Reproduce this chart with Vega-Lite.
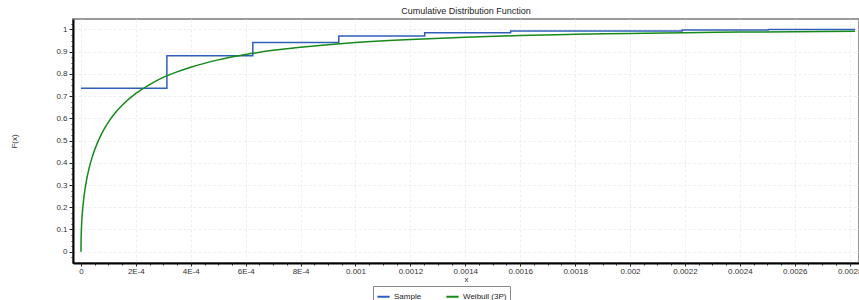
{
  "$schema": "https://vega.github.io/schema/vega-lite/v6.json",
  "width": 786,
  "height": 244,
  "autosize": {"type": "none"},
  "padding": {"left": 73, "top": 19, "right": 0, "bottom": 37},
  "background": "white",
  "config": {
    "font": "Liberation Sans",
    "view": {"stroke": "#9a9a9a", "strokeWidth": 2},
    "axis": {
      "labelFont": "Liberation Sans",
      "titleFont": "Liberation Sans",
      "labelFontSize": 8,
      "titleFontSize": 8,
      "titleFontWeight": "normal",
      "labelColor": "#333",
      "titleColor": "#333",
      "domainColor": "#000",
      "domainWidth": 2,
      "tickColor": "#222",
      "gridColor": "#eeeeee",
      "gridDash": [3, 2]
    }
  },
  "title": {
    "text": "Cumulative Distribution Function",
    "fontSize": 9,
    "fontWeight": "normal",
    "font": "Liberation Sans",
    "color": "#222",
    "offset": 3
  },
  "datasets": {
    "sample": [
      {"x": 0, "F": 0.735, "series": "Sample"},
      {"x": 0.000313, "F": 0.882, "series": "Sample"},
      {"x": 0.000626, "F": 0.941, "series": "Sample"},
      {"x": 0.000939, "F": 0.97, "series": "Sample"},
      {"x": 0.001252, "F": 0.985, "series": "Sample"},
      {"x": 0.001565, "F": 0.993, "series": "Sample"},
      {"x": 0.00219, "F": 0.997, "series": "Sample"},
      {"x": 0.002504, "F": 1.0, "series": "Sample"},
      {"x": 0.00282, "F": 1.0, "series": "Sample"}
    ],
    "weibull": [
      {"x": 0, "F": 0, "series": "Weibull (3P)"},
      {"x": 0.0000005, "F": 0.057, "series": "Weibull (3P)"},
      {"x": 0.000001, "F": 0.08, "series": "Weibull (3P)"},
      {"x": 0.000002, "F": 0.112, "series": "Weibull (3P)"},
      {"x": 0.000005, "F": 0.173, "series": "Weibull (3P)"},
      {"x": 0.00001, "F": 0.237, "series": "Weibull (3P)"},
      {"x": 0.000015, "F": 0.283, "series": "Weibull (3P)"},
      {"x": 0.00002, "F": 0.32, "series": "Weibull (3P)"},
      {"x": 0.00003, "F": 0.377, "series": "Weibull (3P)"},
      {"x": 0.00004, "F": 0.422, "series": "Weibull (3P)"},
      {"x": 0.00005, "F": 0.459, "series": "Weibull (3P)"},
      {"x": 0.000075, "F": 0.53, "series": "Weibull (3P)"},
      {"x": 0.0001, "F": 0.583, "series": "Weibull (3P)"},
      {"x": 0.000125, "F": 0.625, "series": "Weibull (3P)"},
      {"x": 0.00015, "F": 0.659, "series": "Weibull (3P)"},
      {"x": 0.0002, "F": 0.712, "series": "Weibull (3P)"},
      {"x": 0.00025, "F": 0.752, "series": "Weibull (3P)"},
      {"x": 0.0003, "F": 0.784, "series": "Weibull (3P)"},
      {"x": 0.00035, "F": 0.809, "series": "Weibull (3P)"},
      {"x": 0.0004, "F": 0.83, "series": "Weibull (3P)"},
      {"x": 0.0005, "F": 0.863, "series": "Weibull (3P)"},
      {"x": 0.0006, "F": 0.887, "series": "Weibull (3P)"},
      {"x": 0.0007, "F": 0.906, "series": "Weibull (3P)"},
      {"x": 0.0008, "F": 0.92, "series": "Weibull (3P)"},
      {"x": 0.0009, "F": 0.9316, "series": "Weibull (3P)"},
      {"x": 0.001, "F": 0.941, "series": "Weibull (3P)"},
      {"x": 0.0012, "F": 0.955, "series": "Weibull (3P)"},
      {"x": 0.0014, "F": 0.965, "series": "Weibull (3P)"},
      {"x": 0.0016, "F": 0.9726, "series": "Weibull (3P)"},
      {"x": 0.0018, "F": 0.9781, "series": "Weibull (3P)"},
      {"x": 0.002, "F": 0.9822, "series": "Weibull (3P)"},
      {"x": 0.0022, "F": 0.9855, "series": "Weibull (3P)"},
      {"x": 0.0024, "F": 0.988, "series": "Weibull (3P)"},
      {"x": 0.0026, "F": 0.99, "series": "Weibull (3P)"},
      {"x": 0.00282, "F": 0.9918, "series": "Weibull (3P)"}
    ]
  },
  "layer": [
    {
      "data": {"name": "sample"},
      "mark": {"type": "line", "interpolate": "step-after", "strokeWidth": 1.5},
      "encoding": {
        "x": {
          "field": "x", "type": "quantitative",
          "scale": {"domain": [-0.000029, 0.002834], "nice": false, "zero": false},
          "axis": {
            "title": "x",
            "values": [0, 0.0002, 0.0004, 0.0006, 0.0008, 0.001, 0.0012, 0.0014, 0.0016, 0.0018, 0.002, 0.0022, 0.0024, 0.0026, 0.0028],
            "labelExpr": "datum.value == 0 ? '0' : (datum.value < 0.00095 ? round(datum.value * 10000) + 'E-4' : format(datum.value, '.4~f'))",
            "tickSize": 3,
            "labelPadding": 1,
            "titleY": 12,
            "labelFlush": false,
            "grid": true,
            "orient": "bottom"
          }
        },
        "y": {
          "field": "F", "type": "quantitative",
          "scale": {"domain": [-0.051, 1.047], "nice": false, "zero": false},
          "axis": {
            "title": "F(x)",
            "values": [0, 0.1, 0.2, 0.3, 0.4, 0.5, 0.6, 0.7, 0.8, 0.9, 1],
            "format": ".1~f",
            "tickSize": 4,
            "labelPadding": 2,
            "titleX": -59,
            "titleBaseline": "middle",
            "grid": true,
            "orient": "left"
          }
        },
        "color": {
          "field": "series", "type": "nominal",
          "scale": {"domain": ["Sample", "Weibull (3P)"], "range": ["#2f5fb8", "#15891a"]},
          "legend": {
            "title": null,
            "orient": "none",
            "legendX": 300,
            "legendY": 267,
            "direction": "horizontal",
            "symbolType": "stroke",
            "symbolSize": 150,
            "symbolStrokeWidth": 2,
            "labelFontSize": 8,
            "labelFont": "Liberation Sans",
            "labelColor": "#222",
            "columnPadding": 20,
            "labelOffset": 3,
            "padding": 3,
            "strokeColor": "#888",
            "fillColor": "white"
          }
        }
      }
    },
    {
      "data": {"name": "weibull"},
      "mark": {"type": "line", "interpolate": "monotone", "strokeWidth": 1.5},
      "encoding": {
        "x": {"field": "x", "type": "quantitative", "scale": {"domain": [-0.000029, 0.002834], "nice": false, "zero": false}, "axis": null},
        "y": {"field": "F", "type": "quantitative", "scale": {"domain": [-0.051, 1.047], "nice": false, "zero": false}, "axis": null},
        "color": {"field": "series", "type": "nominal", "scale": {"domain": ["Sample", "Weibull (3P)"], "range": ["#2f5fb8", "#15891a"]}}
      }
    },
    {
      "data": {"name": "weibull"},
      "mark": {"type": "point", "opacity": 0},
      "encoding": {
        "x": {
          "field": "x", "type": "quantitative",
          "scale": {"domain": [-0.000029, 0.002834], "nice": false, "zero": false},
          "axis": {
            "title": null, "labels": false, "grid": false, "domain": false, "tickSize": 2, "orient": "bottom",
            "values": [0, 0.00005, 0.0001, 0.00015, 0.0002, 0.00025, 0.0003, 0.00035, 0.0004, 0.00045, 0.0005, 0.00055, 0.0006, 0.00065, 0.0007, 0.00075, 0.0008, 0.00085, 0.0009, 0.00095, 0.001, 0.00105, 0.0011, 0.00115, 0.0012, 0.00125, 0.0013, 0.00135, 0.0014, 0.00145, 0.0015, 0.00155, 0.0016, 0.00165, 0.0017, 0.00175, 0.0018, 0.00185, 0.0019, 0.00195, 0.002, 0.00205, 0.0021, 0.00215, 0.0022, 0.00225, 0.0023, 0.00235, 0.0024, 0.00245, 0.0025, 0.00255, 0.0026, 0.00265, 0.0027, 0.00275, 0.0028]
          }
        },
        "y": {
          "field": "F", "type": "quantitative",
          "scale": {"domain": [-0.051, 1.047], "nice": false, "zero": false},
          "axis": {
            "title": null, "labels": false, "grid": false, "domain": false, "tickSize": 2, "orient": "left",
            "values": [-0.025, 0, 0.025, 0.05, 0.075, 0.1, 0.125, 0.15, 0.175, 0.2, 0.225, 0.25, 0.275, 0.3, 0.325, 0.35, 0.375, 0.4, 0.425, 0.45, 0.475, 0.5, 0.525, 0.55, 0.575, 0.6, 0.625, 0.65, 0.675, 0.7, 0.725, 0.75, 0.775, 0.8, 0.825, 0.85, 0.875, 0.9, 0.925, 0.95, 0.975, 1, 1.025]
          }
        }
      }
    }
  ],
  "resolve": {"axis": {"x": "independent", "y": "independent"}}
}
